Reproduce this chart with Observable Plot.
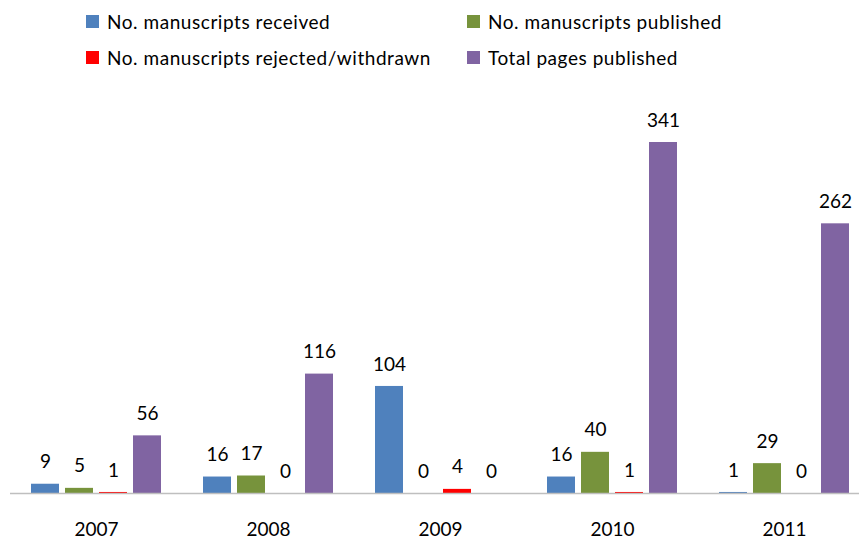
<!DOCTYPE html>
<html>
<head>
<meta charset="utf-8">
<script src="https://cdn.jsdelivr.net/npm/d3@7"></script>
<script src="https://cdn.jsdelivr.net/npm/@observablehq/plot@0.6"></script>
<style>
  body { margin: 0; background: #fff; overflow: hidden; font-family: Lato, "Open Sans", sans-serif; }
  #wrap { position: relative; width: 859px; height: 540px; }
  #legend { position: relative; height: 80px; width: 859px; }
  .item { position: absolute; display: flex; align-items: center; font-size: 19px; letter-spacing: 0.55px; color: #000; white-space: nowrap; }
  .sw { width: 13px; height: 13px; margin-right: 8px; }
</style>
</head>
<body>
<div id="wrap">
  <div id="legend"></div>
  <div id="chart"></div>
</div>
<script>
const years = ["2007", "2008", "2009", "2010", "2011"];
const series = ["No. manuscripts received", "No. manuscripts published", "No. manuscripts rejected/withdrawn", "Total pages published"];
const colors = ["#4F81BD", "#77933C", "#FF0000", "#8064A2"];
const received = [9, 16, 104, 16, 1];
const published = [5, 17, 0, 40, 29];
const rejected = [1, 0, 4, 1, 0];
const pages = [56, 116, 0, 341, 262];

const values = [received, published, rejected, pages];
const data = [];
years.forEach((y, i) => {
  series.forEach((s, j) => data.push({year: y, series: s, value: values[j][i]}));
});

// Legend (two rows, two columns)
const legendPos = [
  {left: 86, top: 14}, {left: 467, top: 14},
  {left: 86, top: 50}, {left: 467, top: 50}
];
const legend = document.getElementById("legend");
series.forEach((s, j) => {
  const d = document.createElement("div");
  d.className = "item";
  d.style.left = legendPos[j].left + "px";
  d.style.top = (legendPos[j].top - 4) + "px";
  d.innerHTML = `<span class="sw" style="background:${colors[j]}"></span><span>${s}</span>`;
  legend.appendChild(d);
});

const chart = Plot.plot({
  width: 859,
  height: 460,
  marginTop: 62,
  marginBottom: 47,
  marginLeft: 10,
  marginRight: -11,
  style: {fontFamily: "Lato, 'Open Sans', sans-serif", fontSize: "19px", color: "#000", background: "#fff"},
  fx: {domain: years, padding: 0, label: null, tickSize: 0, tickPadding: 29, axis: "bottom"},
  x: {domain: series, paddingInner: 0.19, paddingOuter: 0.588, axis: null},
  y: {domain: [0, 341], axis: null},
  color: {domain: series, range: colors},
  marks: [
    Plot.barY(data, {fx: "year", x: "series", y: "value", fill: "series"}),
    Plot.ruleY([0], {stroke: "#BFBFBF", strokeWidth: 1.5}),
    Plot.text(data, {fx: "year", x: "series", y: "value", text: d => String(d.value), dy: -22, fill: "#000", fontSize: 19})
  ]
});
document.getElementById("chart").appendChild(chart);
</script>
</body>
</html>
